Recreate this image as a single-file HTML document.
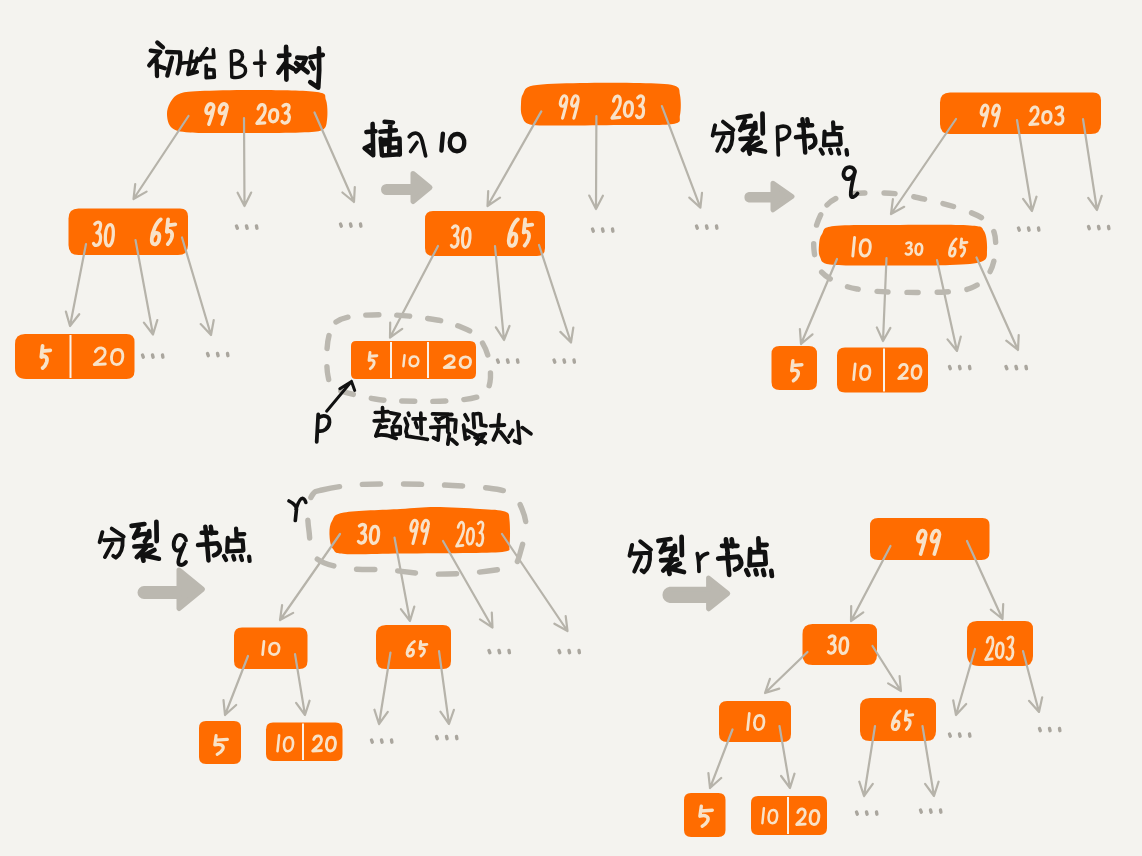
<!DOCTYPE html>
<html><head><meta charset="utf-8"><style>html,body{margin:0;padding:0;background:#f4f3ef;width:1142px;height:856px;overflow:hidden;font-family:"Liberation Sans",sans-serif}svg{display:block}</style></head>
<body><svg width="1142" height="856" viewBox="0 0 1142 856">
<rect width="1142" height="856" fill="#f4f3ef"/>
<g fill="#ff6c00">
<path d="M170.0 103.0C172.0 99.5 174.0 96.0 179.0 94.0C184.0 92.0 186.5 91.7 200.0 91.0C213.5 90.3 240.5 89.8 260.0 90.0C279.5 90.2 306.0 90.3 317.0 92.0C328.0 93.7 324.3 95.3 326.0 100.0C327.7 104.7 327.7 115.0 327.0 120.0C326.3 125.0 326.5 127.9 322.0 130.0C317.5 132.1 313.7 132.0 300.0 132.5C286.3 133.0 258.3 133.0 240.0 133.0C221.7 133.0 201.3 133.3 190.0 132.5C178.7 131.7 175.8 130.9 172.0 128.0C168.2 125.1 167.3 119.2 167.0 115.0C166.7 110.8 168.0 106.5 170.0 103.0Z"/>
<path d="M78.5 208.5H180Q188 208.5 188 216.5V245Q188 255 178 255H78.5Q68.5 255 68.5 245V218.5Q68.5 208.5 78.5 208.5Z"/>
<path d="M25 334H126.5Q134.5 334 134.5 342V371Q134.5 379 126.5 379H26Q15 379 15 368V344Q15 334 25 334Z"/>
<path d="M523.0 94.0C525.0 90.9 523.5 87.3 533.0 85.5C542.5 83.7 562.2 83.4 580.0 83.0C597.8 82.6 624.3 82.6 640.0 83.0C655.7 83.4 667.3 83.5 674.0 85.5C680.7 87.5 679.0 90.1 680.0 95.0C681.0 99.9 681.2 110.2 680.0 115.0C678.8 119.8 683.0 122.3 673.0 124.0C663.0 125.7 638.8 124.8 620.0 125.0C601.2 125.2 575.0 125.6 560.0 125.5C545.0 125.4 536.3 126.1 530.0 124.5C523.7 122.9 523.5 119.4 522.0 116.0C520.5 112.6 520.8 107.7 521.0 104.0C521.2 100.3 521.0 97.1 523.0 94.0Z"/>
<path d="M433 211H537Q545 211 545 219V248Q545 256 537 256H433Q425 256 425 248V219Q425 211 433 211Z"/>
<path d="M356 341H470Q476 341 476 347V373Q476 379 470 379H356Q351 379 351 374V346Q351 341 356 341Z"/>
<path d="M950 92.5H1093Q1101 92.5 1101 100.5V124Q1101 134 1091 134H950Q940 134 940 124V102.5Q940 92.5 950 92.5Z"/>
<path d="M822.0 234.0C824.5 230.8 821.0 227.5 834.0 226.0C847.0 224.5 877.3 225.1 900.0 225.0C922.7 224.9 956.0 224.5 970.0 225.5C984.0 226.5 981.2 226.9 984.0 231.0C986.8 235.1 987.3 244.9 987.0 250.0C986.7 255.1 988.2 259.0 982.0 261.5C975.8 264.0 967.0 264.3 950.0 265.0C933.0 265.7 900.0 265.6 880.0 265.5C860.0 265.4 840.0 265.9 830.0 264.5C820.0 263.1 821.8 260.2 820.0 257.0C818.2 253.8 818.7 248.8 819.0 245.0C819.3 241.2 819.5 237.2 822.0 234.0Z"/>
<path d="M779.5 346H809Q817 346 817 354V382Q817 390 809 390H779.5Q771.5 390 771.5 382V354Q771.5 346 779.5 346Z"/>
<path d="M845 347.5H920Q928 347.5 928 355.5V384.5Q928 392.5 920 392.5H845Q837 392.5 837 384.5V355.5Q837 347.5 845 347.5Z"/>
<path d="M332.0 521.0C334.4 517.2 332.7 514.5 344.0 512.5C355.3 510.5 384.8 509.9 400.0 509.0C415.2 508.1 421.7 507.0 435.0 507.0C448.3 507.0 468.3 508.2 480.0 509.0C491.7 509.8 500.1 509.7 505.0 511.5C509.9 513.3 508.8 514.4 509.5 520.0C510.2 525.6 510.2 539.8 509.5 545.0C508.8 550.2 511.6 550.2 505.0 551.5C498.4 552.8 487.5 552.7 470.0 553.0C452.5 553.3 420.8 553.3 400.0 553.5C379.2 553.7 356.2 554.8 345.0 554.0C333.8 553.2 335.6 552.2 333.0 549.0C330.4 545.8 329.7 539.7 329.5 535.0C329.3 530.3 329.6 524.8 332.0 521.0Z"/>
<path d="M242 627.5H299.5Q307.5 627.5 307.5 635.5V661Q307.5 669 299.5 669H242Q234 669 234 661V635.5Q234 627.5 242 627.5Z"/>
<path d="M386 625H443Q451 625 451 633V661Q451 669 443 669H386Q376 669 376 659V635Q376 625 386 625Z"/>
<path d="M206 721H234Q241 721 241 728V757Q241 764 234 764H206Q199 764 199 757V728Q199 721 206 721Z"/>
<path d="M273 722.5H335.5Q342.5 722.5 342.5 729.5V754Q342.5 761 335.5 761H273Q266 761 266 754V729.5Q266 722.5 273 722.5Z"/>
<path d="M878 518H982.5Q989.5 518 989.5 525V552Q989.5 560 981.5 560H878Q870 560 870 552V526Q870 518 878 518Z"/>
<path d="M812.5 624H869Q877 624 877 632V655Q877 665 867 665H812.5Q802.5 665 802.5 655V634Q802.5 624 812.5 624Z"/>
<path d="M977 621H1025Q1033 621 1033 629V656Q1033 666 1023 666H979Q967 666 967 654V631Q967 621 977 621Z"/>
<path d="M727 701H783Q791 701 791 709V734Q791 742 783 742H727Q719 742 719 734V709Q719 701 727 701Z"/>
<path d="M870 698H928Q936 698 936 706V731Q936 741 926 741H870Q860 741 860 731V708Q860 698 870 698Z"/>
<path d="M691 793H718.5Q725.5 793 725.5 800V830Q725.5 837 718.5 837H691Q684 837 684 830V800Q684 793 691 793Z"/>
<path d="M758 796H820Q827 796 827 803V828Q827 835 820 835H758Q751 835 751 828V803Q751 796 758 796Z"/>
</g>
<g stroke="#fbf1e6" stroke-width="2">
<path d="M70.5 335V378"/>
<path d="M391 342V378"/>
<path d="M428 342V378"/>
<path d="M884 348.5V391.5"/>
<path d="M303 723.5V760"/>
<path d="M788 797V834"/>
</g>
<g fill="none" stroke="#f8e2c8" stroke-linejoin="round" stroke-linecap="round">
<path stroke-width="3.58" d="M 213.8 107.5 C 213.6 102.8 208.3 101.9 206.2 109.2 C 204.9 114.6 210.3 115.2 213.5 108.8 C 212.3 115.6 210.1 121.0 208.9 124.2 M 227.1 107.5 C 226.9 102.8 221.6 101.9 219.5 109.2 C 218.2 114.6 223.7 115.2 226.8 108.8 C 225.6 115.6 223.4 121.0 222.2 124.2"/>
<path stroke-width="3.25" d="M 258.1 108.9 C 259.9 103.0 266.0 103.0 265.0 110.9 C 264.2 116.1 259.4 119.5 256.9 123.4 L 264.8 122.8 M 274.1 109.5 C 277.4 109.5 277.9 113.2 277.7 115.7 C 277.4 119.4 275.6 121.8 273.1 121.8 C 270.6 121.8 269.2 119.4 269.5 115.7 C 269.8 112.0 271.2 109.5 274.1 109.5 Z M 283.0 106.0 C 286.0 103.4 290.7 104.1 288.4 109.9 C 287.4 112.2 285.4 113.0 285.3 113.0 C 288.6 112.6 290.0 115.7 289.0 119.5 C 287.9 123.4 283.5 124.1 282.0 121.5"/>
<path stroke-width="3.25" d="M 94.8 224.1 C 97.8 220.7 102.3 221.6 99.9 228.9 C 98.9 231.8 97.0 232.8 96.8 232.8 C 100.1 232.3 101.3 236.2 100.3 241.0 C 99.1 245.9 94.9 246.8 93.5 243.4 M 110.2 224.5 C 113.3 224.5 113.6 230.9 113.3 235.2 C 112.8 241.6 110.9 245.9 108.5 245.9 C 106.1 245.9 104.9 241.6 105.4 235.2 C 105.9 228.8 107.4 224.5 110.2 224.5 Z"/>
<path stroke-width="3.77" d="M 160.8 219.4 C 156.3 222.4 152.3 231.8 151.8 238.7 C 151.4 244.1 153.6 244.6 156.0 244.1 C 159.5 242.9 160.6 233.7 157.5 233.0 C 155.3 232.5 153.3 234.7 152.1 237.7 M 168.1 219.4 L 166.8 231.8 C 170.2 229.8 173.3 231.8 171.7 237.7 C 170.7 240.9 169.1 242.9 167.8 244.1 M 167.6 225.3 L 175.3 224.3"/>
<path stroke-width="3.77" d="M 42.6 345.9 L 41.3 357.0 C 44.9 355.2 48.2 357.0 46.6 362.3 C 45.6 365.2 44.0 367.0 42.6 368.1 M 42.1 351.2 L 50.3 350.3"/>
<path stroke-width="2.90" d="M 95.4 351.7 C 97.7 346.4 106.1 346.4 105.0 353.4 C 104.1 358.1 97.6 361.1 94.3 364.6 L 105.3 364.0 M 117.7 349.5 C 122.3 349.5 123.0 354.0 122.8 357.0 C 122.4 361.5 119.9 364.6 116.5 364.6 C 113.1 364.6 111.1 361.5 111.5 357.0 C 111.9 352.5 113.8 349.5 117.7 349.5 Z"/>
<path stroke-width="3.09" d="M 566.9 99.7 C 566.8 94.5 562.4 93.6 560.5 101.6 C 559.2 107.5 563.9 108.2 566.7 101.2 C 565.5 108.7 563.5 114.6 562.5 118.2 M 578.2 99.7 C 578.1 94.5 573.7 93.6 571.8 101.6 C 570.5 107.5 575.1 108.2 578.0 101.2 C 576.8 108.7 574.8 114.6 573.8 118.2"/>
<path stroke-width="3.19" d="M 613.5 101.1 C 615.3 94.1 621.3 94.1 620.1 103.4 C 619.2 109.5 614.5 113.6 612.0 118.1 L 619.8 117.4 M 629.0 101.8 C 632.2 101.8 632.6 106.2 632.4 109.1 C 632.0 113.4 630.2 116.3 627.8 116.3 C 625.5 116.3 624.1 113.4 624.4 109.1 C 624.8 104.7 626.2 101.8 629.0 101.8 Z M 637.7 97.8 C 640.7 94.6 645.2 95.5 642.9 102.3 C 641.9 105.0 640.0 105.9 639.8 105.9 C 643.0 105.4 644.3 109.1 643.3 113.6 C 642.2 118.1 638.0 119.0 636.5 115.8"/>
<path stroke-width="3.06" d="M 452.5 227.7 C 455.3 224.6 459.6 225.5 457.4 232.1 C 456.4 234.7 454.6 235.6 454.5 235.6 C 457.5 235.2 458.7 238.7 457.8 243.1 C 456.7 247.5 452.7 248.4 451.3 245.3 M 467.0 228.2 C 470.0 228.2 470.3 234.0 470.0 237.8 C 469.5 243.6 467.7 247.5 465.5 247.5 C 463.2 247.5 462.1 243.6 462.5 237.8 C 463.0 232.0 464.4 228.2 467.0 228.2 Z"/>
<path stroke-width="3.77" d="M 517.8 219.4 C 513.4 222.5 509.4 232.5 508.8 239.8 C 508.3 245.6 510.6 246.1 513.0 245.6 C 516.5 244.3 517.6 234.6 514.6 233.8 C 512.4 233.3 510.3 235.6 509.2 238.8 M 525.2 219.4 L 523.7 232.5 C 527.1 230.4 530.2 232.5 528.6 238.8 C 527.6 242.2 526.0 244.3 524.7 245.6 M 524.7 225.7 L 532.2 224.6"/>
<path stroke-width="2.90" d="M 370.0 352.4 L 369.0 360.5 C 372.2 359.2 375.1 360.5 373.8 364.4 C 372.9 366.5 371.5 367.7 370.3 368.6 M 369.7 356.3 L 376.9 355.7"/>
<path stroke-width="2.50" d="M 404.6 355.2 L 403.4 366.2 M 414.3 356.6 C 417.8 356.6 418.4 359.5 418.3 361.4 C 418.0 364.3 416.1 366.2 413.5 366.2 C 410.9 366.2 409.3 364.3 409.6 361.4 C 409.8 358.5 411.3 356.6 414.3 356.6 Z"/>
<path stroke-width="2.90" d="M 445.1 358.5 C 447.1 354.7 454.9 354.7 454.0 359.7 C 453.2 363.0 447.3 365.1 444.3 367.6 L 454.4 367.2 M 465.7 356.9 C 469.9 356.9 470.7 360.1 470.5 362.2 C 470.3 365.4 468.0 367.6 464.9 367.6 C 461.7 367.6 459.8 365.4 460.1 362.2 C 460.3 359.0 462.0 356.9 465.7 356.9 Z"/>
<path stroke-width="3.12" d="M 988.0 108.9 C 987.8 104.1 983.3 103.2 981.4 110.6 C 980.2 116.1 984.9 116.8 987.7 110.2 C 986.5 117.2 984.6 122.7 983.5 125.9 M 999.4 108.9 C 999.3 104.1 994.8 103.2 992.9 110.6 C 991.7 116.1 996.4 116.8 999.2 110.2 C 998.0 117.2 996.0 122.7 995.0 125.9"/>
<path stroke-width="3.04" d="M 1030.9 111.0 C 1032.7 105.4 1039.0 105.4 1038.0 112.8 C 1037.2 117.7 1032.3 120.9 1029.8 124.5 L 1037.9 123.9 M 1047.3 111.5 C 1050.7 111.5 1051.2 115.0 1051.0 117.3 C 1050.8 120.7 1048.9 123.0 1046.4 123.0 C 1043.9 123.0 1042.4 120.7 1042.7 117.3 C 1042.9 113.8 1044.4 111.5 1047.3 111.5 Z M 1056.4 108.3 C 1059.5 105.8 1064.3 106.5 1062.0 111.9 C 1060.9 114.1 1059.0 114.8 1058.8 114.8 C 1062.2 114.4 1063.6 117.3 1062.7 120.9 C 1061.5 124.5 1057.1 125.2 1055.5 122.7"/>
<path stroke-width="2.93" d="M 854.6 237.5 L 852.8 256.0 M 865.8 239.7 C 869.9 239.7 870.5 244.6 870.2 247.9 C 869.8 252.8 867.5 256.0 864.5 256.0 C 861.5 256.0 859.8 252.8 860.2 247.9 C 860.5 243.0 862.3 239.7 865.8 239.7 Z"/>
<path stroke-width="2.60" d="M 906.5 243.5 C 909.0 241.8 912.7 242.3 910.9 246.0 C 910.1 247.5 908.6 248.0 908.5 248.0 C 911.1 247.8 912.3 249.7 911.5 252.2 C 910.7 254.7 907.2 255.2 905.9 253.5 M 919.3 243.8 C 921.9 243.8 922.3 247.1 922.1 249.2 C 921.9 252.5 920.4 254.7 918.4 254.7 C 916.5 254.7 915.3 252.5 915.6 249.2 C 915.8 246.0 917.0 243.8 919.3 243.8 Z"/>
<path stroke-width="2.79" d="M 956.2 238.9 C 952.9 241.0 949.9 247.5 949.5 252.3 C 949.2 256.1 950.9 256.4 952.7 256.1 C 955.3 255.2 956.1 248.9 953.8 248.4 C 952.2 248.0 950.7 249.6 949.8 251.6 M 961.6 238.9 L 960.7 247.5 C 963.2 246.1 965.5 247.5 964.4 251.6 C 963.6 253.9 962.5 255.2 961.5 256.1 M 961.3 243.0 L 967.0 242.3"/>
<path stroke-width="3.41" d="M 792.9 360.7 L 791.7 370.8 C 795.8 369.1 799.7 370.8 797.9 375.6 C 796.8 378.2 795.0 379.8 793.4 380.8 M 792.5 365.5 L 801.9 364.7"/>
<path stroke-width="2.73" d="M 855.2 363.9 L 853.6 379.6 M 865.8 365.8 C 869.5 365.8 870.2 369.9 869.9 372.7 C 869.6 376.9 867.5 379.6 864.6 379.6 C 861.8 379.6 860.1 376.9 860.5 372.7 C 860.8 368.5 862.5 365.8 865.8 365.8 Z"/>
<path stroke-width="2.90" d="M 899.7 367.6 C 901.4 363.1 908.0 363.1 907.1 369.1 C 906.4 373.0 901.3 375.6 898.7 378.6 L 907.3 378.1 M 917.0 365.7 C 920.5 365.7 921.1 369.6 920.9 372.1 C 920.6 376.0 918.6 378.6 916.0 378.6 C 913.4 378.6 911.8 376.0 912.1 372.1 C 912.4 368.3 914.0 365.7 917.0 365.7 Z"/>
<path stroke-width="3.25" d="M 359.4 526.0 C 362.5 523.4 367.1 524.1 364.8 529.9 C 363.8 532.2 361.9 533.0 361.7 533.0 C 365.0 532.6 366.3 535.7 365.4 539.5 C 364.3 543.4 360.0 544.1 358.4 541.5 M 375.1 526.4 C 378.4 526.4 378.8 531.5 378.5 534.9 C 378.1 540.0 376.2 543.4 373.8 543.4 C 371.4 543.4 370.0 540.0 370.4 534.9 C 370.8 529.8 372.3 526.4 375.1 526.4 Z"/>
<path stroke-width="3.06" d="M 417.4 524.4 C 417.3 519.0 412.9 518.0 411.0 526.4 C 409.8 532.5 414.3 533.2 417.1 525.9 C 415.9 533.7 413.9 539.8 412.9 543.5 M 428.5 524.4 C 428.4 519.0 424.0 518.0 422.1 526.4 C 420.9 532.5 425.4 533.2 428.2 525.9 C 427.0 533.7 425.0 539.8 424.0 543.5"/>
<path stroke-width="2.69" d="M 458.1 527.5 C 459.8 519.9 464.7 519.9 463.6 530.0 C 462.7 536.7 458.7 541.2 456.5 546.2 L 463.0 545.4 M 470.9 528.3 C 473.6 528.3 473.8 533.1 473.6 536.2 C 473.2 541.0 471.6 544.2 469.7 544.2 C 467.7 544.2 466.6 541.0 467.0 536.2 C 467.4 531.5 468.6 528.3 470.9 528.3 Z M 478.2 523.8 C 480.8 520.4 484.5 521.3 482.4 528.8 C 481.5 531.8 479.9 532.8 479.8 532.8 C 482.5 532.3 483.5 536.2 482.5 541.2 C 481.5 546.2 478.0 547.1 476.8 543.7"/>
<path stroke-width="2.73" d="M 264.0 641.4 L 262.6 654.6 M 274.7 643.0 C 278.6 643.0 279.2 646.5 279.0 648.8 C 278.8 652.3 276.7 654.6 273.8 654.6 C 270.9 654.6 269.2 652.3 269.5 648.8 C 269.8 645.3 271.4 643.0 274.7 643.0 Z"/>
<path stroke-width="2.90" d="M 414.4 641.5 C 410.7 643.2 407.4 648.8 407.1 652.8 C 406.8 656.0 408.8 656.3 410.8 656.0 C 413.8 655.3 414.5 649.9 411.9 649.5 C 410.0 649.2 408.3 650.5 407.4 652.3 M 420.7 641.5 L 419.8 648.8 C 422.7 647.6 425.4 648.8 424.1 652.3 C 423.3 654.2 422.1 655.3 421.0 656.0 M 420.4 645.0 L 426.9 644.4"/>
<path stroke-width="3.19" d="M 216.1 735.6 L 214.8 745.0 C 219.9 743.5 224.8 745.0 222.7 749.5 C 221.4 752.0 219.1 753.5 217.2 754.4 M 215.7 740.1 L 227.4 739.4"/>
<path stroke-width="2.60" d="M 279.1 735.3 L 277.5 751.2 M 289.1 737.2 C 292.7 737.2 293.2 741.4 293.0 744.2 C 292.7 748.4 290.6 751.2 287.9 751.2 C 285.3 751.2 283.7 748.4 284.0 744.2 C 284.4 740.0 285.9 737.2 289.1 737.2 Z"/>
<path stroke-width="2.90" d="M 313.7 739.4 C 315.6 734.5 322.3 734.5 321.3 740.9 C 320.5 745.1 315.4 747.9 312.7 751.0 L 321.4 750.6 M 331.4 737.3 C 335.0 737.3 335.6 741.4 335.4 744.2 C 335.0 748.3 333.0 751.0 330.3 751.0 C 327.6 751.0 326.1 748.3 326.4 744.2 C 326.7 740.1 328.3 737.3 331.4 737.3 Z"/>
<path stroke-width="3.71" d="M 925.8 534.8 C 925.6 529.4 920.2 528.4 918.0 536.8 C 916.6 543.0 922.2 543.7 925.5 536.3 C 924.1 544.2 921.8 550.4 920.6 554.1 M 939.5 534.8 C 939.3 529.4 933.9 528.4 931.7 536.8 C 930.2 543.0 935.8 543.7 939.2 536.3 C 937.8 544.2 935.5 550.4 934.3 554.1"/>
<path stroke-width="3.04" d="M 829.2 637.3 C 832.1 634.8 836.6 635.5 834.4 640.9 C 833.4 643.1 831.6 643.8 831.4 643.8 C 834.6 643.4 835.9 646.3 835.0 649.9 C 833.9 653.5 829.8 654.2 828.3 651.7 M 844.4 637.7 C 847.5 637.7 847.9 642.4 847.7 645.6 C 847.3 650.3 845.5 653.5 843.1 653.5 C 840.8 653.5 839.5 650.3 839.9 645.6 C 840.2 640.8 841.7 637.7 844.4 637.7 Z"/>
<path stroke-width="2.77" d="M 987.1 642.2 C 988.7 635.0 993.9 635.0 992.8 644.5 C 991.9 650.8 987.8 655.0 985.6 659.6 L 992.3 658.9 M 1000.4 642.9 C 1003.1 642.9 1003.5 647.3 1003.2 650.3 C 1002.9 654.8 1001.3 657.8 999.2 657.8 C 997.2 657.8 996.0 654.8 996.4 650.3 C 996.7 645.9 998.0 642.9 1000.4 642.9 Z M 1007.9 638.7 C 1010.6 635.5 1014.5 636.4 1012.3 643.4 C 1011.4 646.1 1009.8 647.1 1009.7 647.1 C 1012.4 646.6 1013.5 650.3 1012.6 655.0 C 1011.5 659.6 1007.9 660.5 1006.6 657.3"/>
<path stroke-width="2.73" d="M 749.3 713.4 L 747.6 729.6 M 759.8 715.3 C 763.5 715.3 764.1 719.6 763.9 722.5 C 763.6 726.8 761.4 729.6 758.6 729.6 C 755.8 729.6 754.1 726.8 754.5 722.5 C 754.8 718.2 756.5 715.3 759.8 715.3 Z"/>
<path stroke-width="3.12" d="M 900.0 711.1 C 896.1 713.3 892.7 720.2 892.3 725.4 C 892.0 729.4 894.0 729.8 896.0 729.4 C 899.1 728.5 899.9 721.7 897.3 721.2 C 895.4 720.8 893.6 722.5 892.6 724.7 M 906.4 711.1 L 905.4 720.2 C 908.3 718.8 911.1 720.2 909.7 724.7 C 908.9 727.1 907.6 728.5 906.4 729.4 M 906.1 715.5 L 912.7 714.7"/>
<path stroke-width="3.41" d="M 701.3 806.2 L 699.9 816.2 C 704.9 814.6 709.7 816.2 707.6 821.1 C 706.3 823.7 704.1 825.3 702.2 826.3 M 700.9 811.0 L 712.3 810.2"/>
<path stroke-width="2.50" d="M 763.9 808.2 L 762.4 823.2 M 773.4 810.0 C 776.8 810.0 777.3 814.0 777.1 816.6 C 776.8 820.6 774.8 823.2 772.3 823.2 C 769.8 823.2 768.3 820.6 768.6 816.6 C 768.9 812.7 770.4 810.0 773.4 810.0 Z"/>
<path stroke-width="2.90" d="M 797.8 812.5 C 799.6 807.5 806.1 807.5 805.1 814.1 C 804.4 818.4 799.3 821.3 796.7 824.5 L 805.2 824.1 M 815.0 810.4 C 818.5 810.4 819.1 814.6 818.8 817.5 C 818.5 821.7 816.5 824.5 813.9 824.5 C 811.3 824.5 809.8 821.7 810.1 817.5 C 810.4 813.2 812.0 810.4 815.0 810.4 Z"/>
</g>
<g fill="none" stroke="#b6b3aa" stroke-width="2.2" stroke-linecap="round" stroke-linejoin="round">
<path d="M188.5 116.0L133.5 199.0M146.6 191.6L133.5 199.0L135.2 184.1"/>
<path d="M244.0 118.0L244.5 206.0M251.2 192.6L244.5 206.0L237.6 192.7"/>
<path d="M314.5 112.5L354.0 202.0M354.8 187.0L354.0 202.0L342.4 192.5"/>
<path d="M86.0 244.0L70.0 326.0M79.2 314.2L70.0 326.0L65.9 311.6"/>
<path d="M135.5 240.0L153.0 334.5M157.3 320.1L153.0 334.5L143.9 322.6"/>
<path d="M182.0 237.5L211.0 335.0M213.7 320.2L211.0 335.0L200.7 324.1"/>
<path d="M541.3 111.4L487.5 206.0M500.0 197.7L487.5 206.0L488.2 191.0"/>
<path d="M596.4 116.0L596.0 209.0M602.9 195.7L596.0 209.0L589.2 195.6"/>
<path d="M661.9 106.1L700.4 207.7M702.0 192.8L700.4 207.7L689.3 197.6"/>
<path d="M438.0 246.0L390.0 337.5M402.2 328.8L390.0 337.5L390.2 322.5"/>
<path d="M495.0 246.0L504.0 340.0M509.5 326.0L504.0 340.0L495.9 327.3"/>
<path d="M539.0 245.0L571.0 342.5M573.3 327.7L571.0 342.5L560.4 331.9"/>
<path d="M956.0 119.0L891.0 214.0M904.2 206.8L891.0 214.0L892.9 199.1"/>
<path d="M1017.0 120.0L1032.0 211.0M1036.5 196.7L1032.0 211.0L1023.1 198.9"/>
<path d="M1083.0 119.0L1097.0 210.0M1101.7 195.8L1097.0 210.0L1088.2 197.8"/>
<path d="M837.0 259.0L801.0 344.0M812.5 334.3L801.0 344.0L799.9 329.0"/>
<path d="M886.5 258.0L883.0 341.0M890.4 327.9L883.0 341.0L876.8 327.4"/>
<path d="M937.0 260.0L957.0 351.0M960.8 336.5L957.0 351.0L947.5 339.4"/>
<path d="M976.5 257.5L1018.0 350.0M1018.7 335.0L1018.0 350.0L1006.3 340.6"/>
<path d="M340.0 534.0L280.0 620.0M293.2 612.9L280.0 620.0L282.1 605.1"/>
<path d="M394.5 537.5L410.0 621.0M414.3 606.6L410.0 621.0L400.9 609.1"/>
<path d="M443.0 541.0L492.5 627.5M491.8 612.5L492.5 627.5L480.0 619.3"/>
<path d="M502.0 534.0L567.5 631.0M565.7 616.1L567.5 631.0L554.4 623.7"/>
<path d="M248.0 656.0L225.0 715.0M236.2 705.0L225.0 715.0L223.5 700.1"/>
<path d="M295.0 654.0L305.0 715.0M309.6 700.7L305.0 715.0L296.1 702.9"/>
<path d="M390.5 652.5L379.0 724.0M387.8 711.9L379.0 724.0L374.4 709.7"/>
<path d="M439.0 651.0L449.0 724.0M453.9 709.8L449.0 724.0L440.4 711.7"/>
<path d="M890.5 546.0L851.0 621.0M863.3 612.3L851.0 621.0L851.2 606.0"/>
<path d="M967.0 541.0L1002.5 619.0M1003.2 604.0L1002.5 619.0L990.8 609.7"/>
<path d="M807.5 652.0L765.0 693.0M779.3 688.6L765.0 693.0L769.9 678.8"/>
<path d="M872.5 646.0L901.0 691.0M899.6 676.1L901.0 691.0L888.1 683.4"/>
<path d="M975.0 649.0L956.0 715.0M966.2 704.0L956.0 715.0L953.2 700.3"/>
<path d="M1023.0 651.0L1039.0 712.0M1042.2 697.3L1039.0 712.0L1029.0 700.8"/>
<path d="M732.5 729.5L710.0 788.0M721.2 778.0L710.0 788.0L708.4 773.1"/>
<path d="M779.5 726.0L790.0 788.0M794.5 773.7L790.0 788.0L781.1 776.0"/>
<path d="M875.0 726.0L864.0 796.0M872.8 783.9L864.0 796.0L859.3 781.7"/>
<path d="M922.5 726.0L934.0 796.0M938.6 781.7L934.0 796.0L925.1 783.9"/>
</g>
<g stroke="#aaa69e" stroke-width="3.4" stroke-linecap="round">
<path d="M236.5 226l0.8 2.2M246.5 226l0.6 2.2M256.5 226l0.4 2.2"/>
<path d="M340.5 224l0.8 2.2M350.5 224l0.6 2.2M360.5 224l0.4 2.2"/>
<path d="M142.5 355l0.8 2.2M152.5 355l0.6 2.2M162.5 355l0.4 2.2"/>
<path d="M207.5 353.5l0.8 2.2M217.5 353.5l0.6 2.2M227.5 353.5l0.4 2.2"/>
<path d="M592.5 229l0.8 2.2M602.5 229l0.6 2.2M612.5 229l0.4 2.2"/>
<path d="M696.5 226l0.8 2.2M706.5 226l0.6 2.2M716.5 226l0.4 2.2"/>
<path d="M497.5 360l0.8 2.2M507.5 360l0.6 2.2M517.5 360l0.4 2.2"/>
<path d="M554.0 360l0.8 2.2M564.0 360l0.6 2.2M574.0 360l0.4 2.2"/>
<path d="M1018.5 228l0.8 2.2M1028.5 228l0.6 2.2M1038.5 228l0.4 2.2"/>
<path d="M1088.5 226.5l0.8 2.2M1098.5 226.5l0.6 2.2M1108.5 226.5l0.4 2.2"/>
<path d="M949.5 366.5l0.8 2.2M959.5 366.5l0.6 2.2M969.5 366.5l0.4 2.2"/>
<path d="M1006.0 366.5l0.8 2.2M1016.0 366.5l0.6 2.2M1026.0 366.5l0.4 2.2"/>
<path d="M489.0 650.5l0.8 2.2M499.0 650.5l0.6 2.2M509.0 650.5l0.4 2.2"/>
<path d="M559.0 650.5l0.8 2.2M569.0 650.5l0.6 2.2M579.0 650.5l0.4 2.2"/>
<path d="M371.5 740l0.8 2.2M381.5 740l0.6 2.2M391.5 740l0.4 2.2"/>
<path d="M436.5 736.5l0.8 2.2M446.5 736.5l0.6 2.2M456.5 736.5l0.4 2.2"/>
<path d="M949.5 734l0.8 2.2M959.5 734l0.6 2.2M969.5 734l0.4 2.2"/>
<path d="M1039.5 728.5l0.8 2.2M1049.5 728.5l0.6 2.2M1059.5 728.5l0.4 2.2"/>
<path d="M856.5 812l0.8 2.2M866.5 812l0.6 2.2M876.5 812l0.4 2.2"/>
<path d="M920.5 810l0.8 2.2M930.5 810l0.6 2.2M940.5 810l0.4 2.2"/>
</g>
<g fill="none" stroke="#bbb8b0" stroke-width="5.4" stroke-linecap="round">
<path stroke-dasharray="13 18" d="M336.0 322.0C340.2 319.3 345.2 317.2 355.0 316.0C364.8 314.8 381.3 314.3 395.0 315.0C408.7 315.7 426.0 318.0 437.0 320.0C448.0 322.0 454.2 324.2 461.0 327.0C467.8 329.8 473.5 332.2 478.0 337.0C482.5 341.8 486.0 348.5 488.0 356.0C490.0 363.5 491.3 375.3 490.0 382.0C488.7 388.7 487.3 392.8 480.0 396.0C472.7 399.2 459.0 400.2 446.0 401.0C433.0 401.8 413.8 401.3 402.0 401.0C390.2 400.7 386.0 401.0 375.0 399.0C364.0 397.0 343.8 392.8 336.0 389.0C328.2 385.2 329.5 382.5 328.0 376.0C326.5 369.5 326.7 357.3 327.0 350.0C327.3 342.7 328.5 336.7 330.0 332.0C331.5 327.3 331.8 324.7 336.0 322.0Z"/>
<path stroke-dasharray="11 19" d="M827.0 205.0C831.8 199.7 838.2 197.0 845.0 195.0C851.8 193.0 859.2 193.2 868.0 193.0C876.8 192.8 888.0 192.8 898.0 194.0C908.0 195.2 918.5 197.8 928.0 200.0C937.5 202.2 946.0 204.0 955.0 207.0C964.0 210.0 975.5 213.8 982.0 218.0C988.5 222.2 991.8 225.8 994.0 232.0C996.2 238.2 996.0 247.8 995.0 255.0C994.0 262.2 992.0 269.5 988.0 275.0C984.0 280.5 978.2 285.2 971.0 288.0C963.8 290.8 958.5 291.3 945.0 292.0C931.5 292.7 904.7 292.5 890.0 292.0C875.3 291.5 866.0 290.7 857.0 289.0C848.0 287.3 842.2 285.2 836.0 282.0C829.8 278.8 823.7 275.3 820.0 270.0C816.3 264.7 814.7 257.2 814.0 250.0C813.3 242.8 813.8 234.5 816.0 227.0C818.2 219.5 822.2 210.3 827.0 205.0Z"/>
<path stroke-dasharray="18 23" d="M322.0 490.0C328.7 488.5 341.3 486.0 353.0 485.0C364.7 484.0 377.0 484.0 392.0 484.0C407.0 484.0 427.0 484.3 443.0 485.0C459.0 485.7 476.5 486.5 488.0 488.0C499.5 489.5 506.3 490.5 512.0 494.0C517.7 497.5 519.7 503.5 522.0 509.0C524.3 514.5 526.2 520.2 526.0 527.0C525.8 533.8 522.8 543.7 521.0 550.0C519.2 556.3 518.2 561.8 515.0 565.0C511.8 568.2 509.7 567.7 502.0 569.0C494.3 570.3 481.2 572.2 469.0 573.0C456.8 573.8 442.5 574.5 429.0 574.0C415.5 573.5 402.2 571.0 388.0 570.0C373.8 569.0 356.2 570.2 344.0 568.0C331.8 565.8 320.8 563.2 315.0 557.0C309.2 550.8 310.2 539.2 309.0 531.0C307.8 522.8 307.3 514.2 308.0 508.0C308.7 501.8 310.7 497.0 313.0 494.0C315.3 491.0 315.3 491.5 322.0 490.0Z"/>
</g>
<g fill="#bbb8b0" stroke="#bbb8b0" stroke-width="5" stroke-linejoin="round" stroke-linecap="round">
<path d="M386.5 186.5H413V173.5L430.0 187.5L413 201.5V192.5H386.5A3.0 3.0 0 0 1 386.5 186.5Z"/>
<path d="M749.2 194.5H773V183.2L792.0 196.5L773 209.8V200.0H749.2A2.8 2.8 0 0 1 749.2 194.5Z"/>
<path d="M144.0 588.5H179V570.0L202.5 589.2L179 608.5V596.5H144.0A4.0 4.0 0 0 1 144.0 588.5Z"/>
<path d="M669.9 589.3H708.6V578.1L727.7 593.5L708.6 608.8V600.6H669.9A5.7 5.7 0 0 1 669.9 589.3Z"/>
</g>
<path d="M326.6 411.2L351.5 381.4M339.8 388.7L351.5 381.4L354.7 390.4" fill="none" stroke="#111111" stroke-width="3" stroke-linecap="round" stroke-linejoin="round"/>
<g fill="none" stroke="#111111" stroke-linecap="round" stroke-linejoin="round">
<path stroke-width="3.4" d="M231.3 51.5 L231.8 77 M231.5 51.5 C236 50 242 50.5 242.5 56 C243 60 238 63.5 233 64 C240 63.5 246.5 66 245.5 71.5 C244.5 77 237 78.5 232 77"/>
<path stroke-width="3.4" d="M261 51 L261.3 75.5 M254.5 63.3 L265 63"/>
<path stroke-width="4.4" d="M442.9 133.6 L441.4 150.5"/>
<path stroke-width="4.4" d="M457 134 C463 134 464.5 140 464.2 143.5 C464 149 460 151.2 457 151.2 C452 151.2 449.6 147 449.8 142.5 C450 137 453 134 457 134 Z"/>
<path stroke-width="3.7" d="M777.5 127 L778.3 155 M777.8 127.5 C783 125 790 126 789.6 132 C789.2 137 784 140 778.5 140"/>
<path stroke-width="3.8" d="M855 172 C854 166 846 165 843.8 172 C842.5 177 846 180.5 850 178.5 C853 176.5 855 173 855 171 C853 180 850.5 188 850.8 195 C851.2 199 855 197 857.5 193.5"/>
<path stroke-width="3.8" d="M318.2 414.5 L316.7 441.8 M318.5 418 C322 414.5 330 415 329.5 422 C329 429 323 432 318.5 431"/>
<path stroke-width="3.8" d="M186 540.5 C185 535 179 533 176 537 C172.5 542 173 550 177 550.5 C181 551 184 546 184.5 544 C182 550 178.5 557 178.3 562 C178.3 566 183 566 186 562"/>
<path stroke-width="3.6" d="M289 501 C293 503 296 505 296.5 509 L295.3 520.5 M296 509 C298 503 300 498.3 302.5 498.3 C304 498.5 305.5 501 305.8 502.5"/>
<path stroke-width="3.8" d="M697.3 553.6 C698.5 558 699 565 699 571.3 M699.3 560 C701 556.5 704 554 707.6 553.4"/>
</g>
<g fill="#111111" stroke="#111111" stroke-linejoin="round" stroke-linecap="round">
<path fill="none" stroke-width="4.30" d="M 157.3 42.5 L 163.0 47.3 M 150.7 50.6 L 160.3 52.0 L 149.2 65.4 M 156.6 60.0 L 157.0 76.0 M 158.0 66.0 L 164.8 68.2 M 167.0 52.0 L 179.9 52.3 C 180.8 58.0 180.6 64.0 177.6 73.2 M 172.0 57.6 L 167.3 75.6"/>
<path fill="none" stroke-width="3.70" d="M 191.9 51.2 L 187.9 74.4 L 197.2 71.9 M 181.8 63.3 L 200.6 60.0 M 197.2 58.0 C 196.5 62.0 195.5 66.0 194.6 68.0 C 193.0 71.0 191.0 73.0 189.2 74.0 M 206.9 48.8 L 200.6 58.0 L 213.2 57.3 M 213.2 49.8 L 213.9 57.3 M 206.2 65.3 L 206.2 77.7 M 207.2 69.3 L 213.9 70.0 L 214.3 77.2 L 206.5 77.7"/>
<path fill="none" stroke-width="4.70" d="M 279.1 55.8 L 289.4 54.9 M 286.1 46.9 L 286.4 79.6 M 285.8 62.5 L 278.4 72.6 M 287.6 65.5 L 293.4 68.8 M 297.3 57.6 L 305.8 58.2 C 304.5 62.0 303.0 64.5 301.6 66.1 L 296.1 71.4 M 296.1 63.1 L 307.6 72.2 M 310.4 57.3 L 322.8 54.9 M 318.9 48.4 L 319.2 70.4 L 318.2 87.6 L 310.3 82.2 M 310.7 62.5 L 313.7 68.5"/>
<path fill="none" stroke-width="4.55" d="M 366.4 132.1 L 375.5 131.2 M 372.6 123.9 L 373.2 155.3 L 364.6 148.3 L 371.5 144.8 M 384.6 121.8 L 393.0 122.4 M 380.4 131.8 L 395.9 130.2 M 390.4 122.4 L 389.1 152.7 M 380.7 138.6 L 382.0 155.3 M 382.0 139.9 L 399.5 138.6 L 399.8 154.6 M 382.3 155.4 L 399.8 154.2 M 383.3 144.5 L 388.5 143.8 M 389.8 147.7 L 395.6 147.4"/>
<path fill="none" stroke-width="3.70" d="M 409.2 136.7 C 411.0 134.0 414.4 132.8 416.5 133.2 C 419.5 134.0 421.5 138.0 422.2 141.2 L 425.6 155.9 M 417.0 142.5 L 410.6 151.5"/>
<path fill="none" stroke-width="3.95" d="M 715.1 125.3 L 712.7 135.6 M 723.0 121.7 L 733.3 129.9 M 716.5 133.6 L 732.3 132.8 C 732.8 141.0 731.0 148.0 726.6 151.5 L 724.3 149.6 M 723.6 136.8 L 717.2 150.8"/>
<path fill="none" stroke-width="4.70" d="M 737.8 117.8 L 750.6 115.9 M 744.9 120.8 L 740.3 130.0 M 741.2 128.6 C 746.0 126.6 751.0 125.6 754.8 126.0 C 754.0 129.5 752.6 132.0 751.0 134.0 M 762.5 113.6 L 762.8 133.4 M 755.2 123.2 L 755.5 129.0 M 740.6 139.0 L 757.6 137.8 M 752.1 140.2 L 743.0 149.9 M 747.9 145.6 L 749.7 153.6 M 760.6 142.6 L 750.3 148.1 L 765.0 151.5"/>
<path fill="none" stroke-width="4.45" d="M 799.1 125.2 L 812.2 125.2 M 802.4 119.2 L 804.0 132.5 M 807.3 119.2 L 808.2 125.8 M 795.9 137.3 L 813.1 135.5 C 815.0 138.0 815.6 141.0 815.2 143.0 C 814.0 145.5 812.0 147.0 810.0 147.6 M 803.7 132.5 L 805.2 152.6"/>
<path fill="none" stroke-width="4.20" d="M 833.1 122.3 L 833.7 133.1 M 833.7 128.2 L 841.6 127.9 M 824.6 131.5 L 824.0 145.5 M 825.2 134.3 L 839.8 134.0 L 840.7 144.0 M 824.0 145.2 L 840.4 144.3 M 820.6 149.6 L 822.8 153.6 M 830.1 149.6 L 831.3 153.1 M 838.0 149.6 L 839.2 153.6 M 846.5 150.2 L 847.1 154.6"/>
<path fill="none" stroke-width="3.70" d="M 375.3 412.5 L 388.1 411.7 M 382.5 407.6 L 382.9 420.9 M 374.2 420.9 L 389.0 420.1 M 380.1 425.0 L 375.8 436.0 M 380.1 427.4 L 386.5 426.6 M 375.8 436.0 C 382.0 433.0 390.0 436.0 396.2 438.4 M 390.6 412.9 L 399.4 414.5 L 393.8 423.3 M 392.2 427.4 L 393.0 434.4 M 393.0 426.6 L 400.2 426.6 L 400.2 433.8 L 393.0 434.4"/>
<path fill="none" stroke-width="3.70" d="M 408.3 413.2 L 409.1 415.3 M 405.1 418.5 L 407.5 425.0 L 405.9 431.4 L 407.3 436.0 M 406.7 436.2 C 413.0 437.0 420.0 438.5 427.4 439.3 M 413.1 418.9 L 425.2 418.9 M 420.8 413.2 L 421.2 433.8 M 415.5 422.5 L 417.2 427.4"/>
<path fill="none" stroke-width="3.78" d="M 432.5 413.9 L 448.6 414.1 L 438.1 420.1 M 435.7 418.5 L 438.9 422.5 M 430.8 427.4 L 445.4 426.6 M 438.9 427.4 L 438.1 440.1 L 433.5 437.8 M 445.4 414.5 L 451.8 414.5 M 447.8 418.5 L 447.8 432.0 M 448.6 419.3 L 455.8 420.1 L 455.0 432.2 M 449.4 433.8 L 447.8 444.1 M 451.8 439.5 L 457.0 444.1"/>
<path fill="none" stroke-width="3.78" d="M 465.0 414.8 L 468.0 420.2 M 463.6 425.0 L 465.4 439.0 L 468.9 437.3 M 473.3 414.0 L 474.2 427.6 M 475.0 414.0 C 477.0 413.5 479.5 413.5 480.3 414.0 C 481.0 418.0 481.0 422.0 481.2 425.0 L 486.0 425.9 M 467.3 430.3 L 476.8 435.5 L 485.3 433.8 M 483.8 435.5 L 476.8 444.1 M 475.0 437.3 L 485.3 442.5"/>
<path fill="none" stroke-width="3.78" d="M 490.8 425.9 L 504.4 425.0 M 499.1 414.6 L 497.8 430.3 L 493.4 439.9 M 500.4 432.0 L 508.3 442.1"/>
<path fill="none" stroke-width="3.70" d="M 517.9 421.5 L 519.7 443.2 L 514.6 440.8 M 512.7 430.3 L 509.2 436.4 M 522.3 427.6 L 530.9 433.8"/>
<path fill="none" stroke-width="3.86" d="M 102.4 532.1 L 99.6 542.2 M 111.7 528.6 L 123.7 536.6 M 104.1 540.2 L 122.6 539.4 C 123.1 547.5 121.0 554.3 115.9 557.7 L 113.2 555.9 M 112.4 543.4 L 104.9 557.1"/>
<path fill="none" stroke-width="4.70" d="M 131.6 525.9 L 144.4 524.0 M 138.7 528.8 L 134.1 537.7 M 135.0 536.4 C 139.8 534.4 144.8 533.5 148.7 533.8 C 147.9 537.3 146.5 539.7 144.8 541.6 M 156.4 521.8 L 156.7 541.1 M 149.1 531.1 L 149.4 536.8 M 134.4 546.5 L 151.5 545.3 M 146.0 547.7 L 136.8 557.1 M 141.7 552.9 L 143.5 560.7 M 154.5 550.0 L 144.1 555.4 L 158.9 558.7"/>
<path fill="none" stroke-width="4.48" d="M 201.6 532.8 L 216.3 532.8 M 205.3 526.8 L 207.1 540.2 M 210.8 526.8 L 211.8 533.4 M 198.0 545.0 L 217.3 543.2 C 219.5 545.7 220.1 548.7 219.7 550.7 C 218.3 553.3 216.1 554.8 213.9 555.4 M 206.8 540.2 L 208.5 560.4"/>
<path fill="none" stroke-width="4.22" d="M 236.1 528.5 L 236.6 539.4 M 236.6 534.4 L 244.3 534.1 M 227.8 537.8 L 227.2 551.8 M 228.4 540.6 L 242.6 540.3 L 243.4 550.3 M 227.2 551.5 L 243.1 550.6 M 223.9 556.0 L 226.1 560.0 M 233.2 556.0 L 234.3 559.5 M 240.8 556.0 L 242.0 560.0 M 249.1 556.6 L 249.6 561.0"/>
<path fill="none" stroke-width="4.10" d="M 632.1 545.0 L 629.6 555.7 M 640.3 541.3 L 650.9 549.8 M 633.6 553.6 L 649.9 552.8 C 650.4 561.3 648.5 568.6 644.0 572.2 L 641.6 570.3 M 640.9 556.9 L 634.3 571.5"/>
<path fill="none" stroke-width="4.70" d="M 658.4 540.8 L 670.5 539.0 M 665.1 543.6 L 660.8 552.1 M 661.6 550.8 C 666.1 548.9 670.8 548.0 674.4 548.4 C 673.7 551.6 672.3 553.9 670.8 555.8 M 681.6 536.9 L 681.9 555.2 M 674.8 545.8 L 675.1 551.1 M 661.1 560.4 L 677.0 559.3 M 671.9 561.5 L 663.3 570.5 M 667.9 566.5 L 669.6 573.9 M 679.9 563.7 L 670.2 568.8 L 684.0 572.0"/>
<path fill="none" stroke-width="4.70" d="M 722.0 545.8 L 737.4 545.8 M 725.9 539.4 L 727.8 553.5 M 731.7 539.4 L 732.7 546.4 M 718.2 558.6 L 738.5 556.7 C 740.8 559.4 741.5 562.6 741.0 564.7 C 739.6 567.3 737.2 568.9 734.9 569.6 M 727.4 553.5 L 729.2 574.9"/>
<path fill="none" stroke-width="4.70" d="M 758.4 538.3 L 758.9 550.9 M 758.9 545.2 L 766.6 544.8 M 750.2 549.1 L 749.6 565.4 M 750.8 552.3 L 764.8 552.0 L 765.7 563.7 M 749.6 565.1 L 765.4 564.0 M 746.3 570.2 L 748.4 574.9 M 755.5 570.2 L 756.6 574.3 M 763.1 570.2 L 764.2 574.9 M 771.3 570.9 L 771.9 576.0"/>
</g>
</svg></body></html>
